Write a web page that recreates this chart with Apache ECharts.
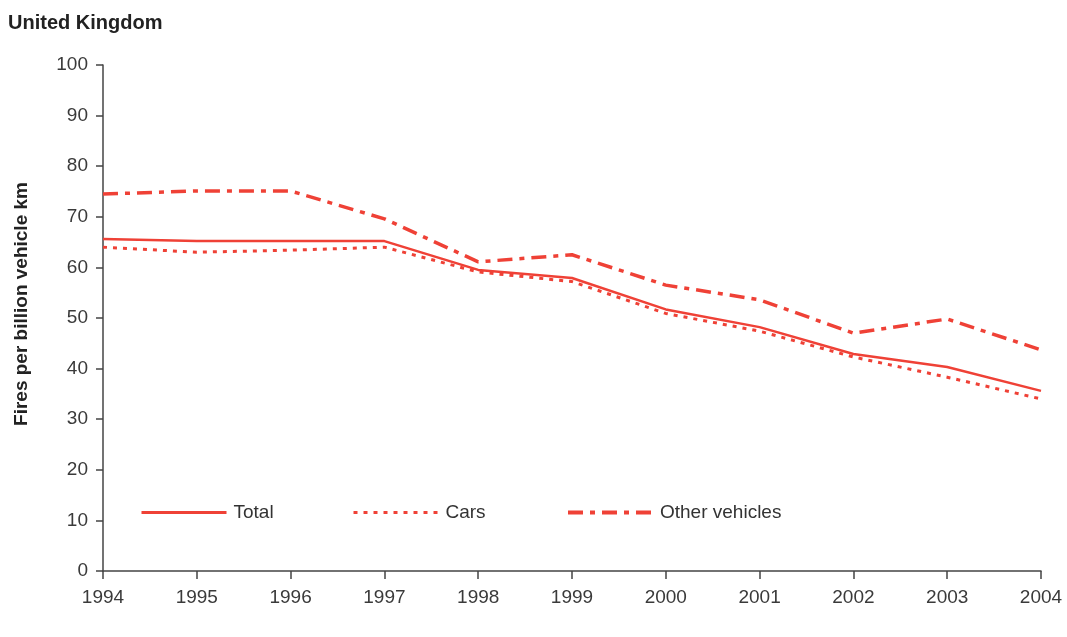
<!DOCTYPE html>
<html>
<head>
<meta charset="utf-8">
<script src="https://cdn.jsdelivr.net/npm/echarts@6/dist/echarts.min.js"></script>
<style>
  html, body { margin: 0; padding: 0; background: #fff; }
  #chart { width: 1067px; height: 637px; }
</style>
</head>
<body>
<div id="chart"></div>
<script>
const years = ['1994', '1995', '1996', '1997', '1998', '1999', '2000', '2001', '2002', '2003', '2004']
const total = [65.6, 65.2, 65.2, 65.2, 59.5, 57.9, 51.7, 48.2, 42.9, 40.3, 35.6]
const cars = [64.0, 63.0, 63.4, 64.0, 59.1, 57.2, 50.9, 47.4, 42.3, 38.3, 34.0]
const otherVehicles = [74.5, 75.1, 75.1, 69.6, 61.1, 62.5, 56.5, 53.6, 47.0, 49.8, 43.7]

const red = '#ef4136'
const font = 'Liberation Sans, Arial, sans-serif'

const chart = echarts.init(document.getElementById('chart'))

// one legend per entry so each can sit where the original puts it
function legendAt (left, name, lineWidth) {
  return {
    left: left,
    top: 498,
    data: [name],
    itemWidth: 85,
    itemHeight: 20,
    itemGap: 0,
    itemStyle: { opacity: 0 },
    lineStyle: { width: lineWidth },
    textStyle: { fontFamily: font, fontSize: 19, color: '#333', padding: [0, 0, 0, 2] }
  }
}

chart.setOption({
  animation: false,
  title: {
    text: 'United Kingdom',
    left: 3,
    top: 8,
    textStyle: { fontFamily: font, fontSize: 20, fontWeight: 'bold', color: '#222' }
  },
  legend: [
    legendAt(135, 'Total', 3),
    legendAt(347, 'Cars', 3),
    legendAt(561, 'Other vehicles', 4)
  ],
  grid: {
    left: 103,
    right: 26,
    top: 65,
    bottom: 66
  },
  xAxis: {
    type: 'category',
    data: years,
    boundaryGap: false,
    axisLine: { lineStyle: { color: '#444', width: 1.5 } },
    axisTick: { length: 8, lineStyle: { color: '#444', width: 1.5 } },
    axisLabel: { fontFamily: font, fontSize: 19, color: '#3a3a3a', margin: 17 }
  },
  yAxis: {
    type: 'value',
    min: 0,
    max: 100,
    interval: 10,
    name: 'Fires per billion vehicle km',
    nameLocation: 'middle',
    nameGap: 72,
    nameTextStyle: { fontFamily: font, fontSize: 19, fontWeight: 'bold', color: '#222', padding: [0, 0, 0, 28] },
    splitLine: { show: false },
    axisLine: { show: true, lineStyle: { color: '#444', width: 1.5 } },
    axisTick: { show: true, length: 7, lineStyle: { color: '#444', width: 1.5 } },
    axisLabel: { fontFamily: font, fontSize: 19, color: '#3a3a3a', margin: 15 }
  },
  series: [
    {
      name: 'Total',
      type: 'line',
      data: total,
      symbol: 'none',
      itemStyle: { color: red },
      lineStyle: { color: red, width: 2.5, type: 'solid' }
    },
    {
      name: 'Cars',
      type: 'line',
      data: cars,
      symbol: 'none',
      itemStyle: { color: red },
      lineStyle: { color: red, width: 3, type: [4, 6] }
    },
    {
      name: 'Other vehicles',
      type: 'line',
      data: otherVehicles,
      symbol: 'none',
      itemStyle: { color: red },
      lineStyle: { color: red, width: 3.5, type: [15, 7, 5, 7] }
    }
  ]
})
</script>
</body>
</html>
